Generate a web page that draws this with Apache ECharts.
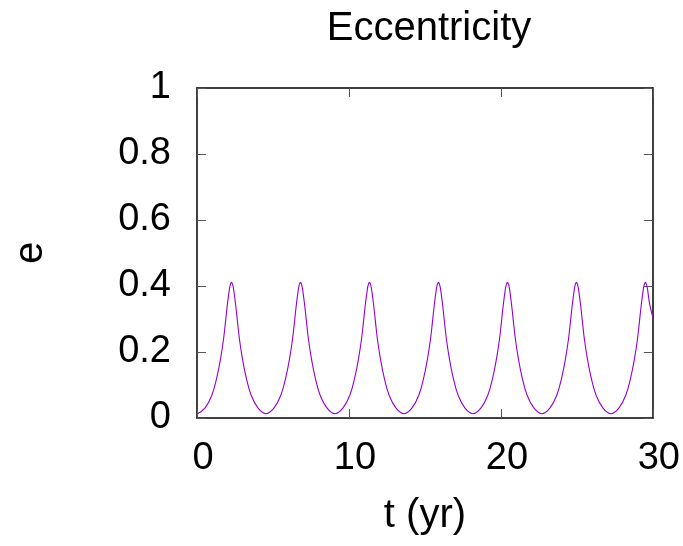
<!DOCTYPE html>
<html>
<head>
<meta charset="utf-8">
<script src="https://cdn.jsdelivr.net/npm/echarts@6/dist/echarts.min.js"></script>
<style>
  html, body { margin: 0; padding: 0; background: #ffffff; }
  #chart { width: 683px; height: 546px; }
</style>
</head>
<body>
<div id="chart"></div>
<script>
// Time (yr)
var tYears = [
  0, 0.52, 0.97, 1.32, 1.57, 1.75, 1.87, 1.99, 2.13, 2.20, 2.27, 2.34, 2.41, 2.55, 2.67, 2.79, 2.97, 3.22, 3.57, 4.02,
  4.54, 5.06, 5.51, 5.86, 6.11, 6.29, 6.41, 6.53, 6.67, 6.74, 6.81, 6.88, 6.95, 7.09, 7.21, 7.33, 7.51, 7.76, 8.11, 8.56,
  9.08, 9.60, 10.05, 10.40, 10.65, 10.83, 10.95, 11.07, 11.21, 11.28, 11.35, 11.42, 11.49, 11.63, 11.75, 11.87, 12.05, 12.30, 12.65, 13.10,
  13.62, 14.14, 14.59, 14.94, 15.19, 15.37, 15.49, 15.61, 15.75, 15.82, 15.89, 15.96, 16.03, 16.17, 16.29, 16.41, 16.59, 16.84, 17.19, 17.64,
  18.16, 18.68, 19.13, 19.48, 19.73, 19.91, 20.03, 20.15, 20.29, 20.36, 20.43, 20.50, 20.57, 20.71, 20.83, 20.95, 21.13, 21.38, 21.73, 22.18,
  22.70, 23.22, 23.67, 24.02, 24.27, 24.45, 24.57, 24.69, 24.83, 24.90, 24.97, 25.04, 25.11, 25.25, 25.37, 25.49, 25.67, 25.92, 26.27, 26.72,
  27.24, 27.76, 28.21, 28.56, 28.81, 28.99, 29.11, 29.23, 29.37, 29.44, 29.51, 29.58, 29.65, 29.79, 30.00
];
// Eccentricity
var ecc = [
  0.012, 0.030, 0.068, 0.126, 0.185, 0.240, 0.289, 0.340, 0.390, 0.405, 0.411, 0.405, 0.390, 0.340, 0.289, 0.240, 0.185, 0.126, 0.068, 0.030,
  0.013, 0.030, 0.068, 0.126, 0.185, 0.240, 0.289, 0.340, 0.390, 0.405, 0.411, 0.405, 0.390, 0.340, 0.289, 0.240, 0.185, 0.126, 0.068, 0.030,
  0.013, 0.030, 0.068, 0.126, 0.185, 0.240, 0.289, 0.340, 0.390, 0.405, 0.411, 0.405, 0.390, 0.340, 0.289, 0.240, 0.185, 0.126, 0.068, 0.030,
  0.013, 0.030, 0.068, 0.126, 0.185, 0.240, 0.289, 0.340, 0.390, 0.405, 0.411, 0.405, 0.390, 0.340, 0.289, 0.240, 0.185, 0.126, 0.068, 0.030,
  0.013, 0.030, 0.068, 0.126, 0.185, 0.240, 0.289, 0.340, 0.390, 0.405, 0.411, 0.405, 0.390, 0.340, 0.289, 0.240, 0.185, 0.126, 0.068, 0.030,
  0.013, 0.030, 0.068, 0.126, 0.185, 0.240, 0.289, 0.340, 0.390, 0.405, 0.411, 0.405, 0.390, 0.340, 0.289, 0.240, 0.185, 0.126, 0.068, 0.030,
  0.013, 0.030, 0.068, 0.126, 0.185, 0.240, 0.289, 0.340, 0.390, 0.405, 0.411, 0.405, 0.390, 0.345, 0.305
];
var xTicks = [0, 10, 20, 30];
var yTicks = [0, 0.2, 0.4, 0.6, 0.8, 1];

var titleText = 'Eccentricity';
var xName = 't (yr)';
var yName = 'e';

var FONT = '"Liberation Sans", Arial, Helvetica, sans-serif';
var seriesData = tYears.map(function (t, i) { return [t, ecc[i]]; });

var chart = echarts.init(document.getElementById('chart'), null, { renderer: 'canvas' });

function axisBase(showLabel) {
  return {
    axisLine: { show: true, onZero: false, lineStyle: { color: '#000', width: 1.5 } },
    axisTick: { show: true, inside: true, length: 9, lineStyle: { color: '#555', width: 1 } },
    splitLine: { show: false },
    axisLabel: { show: showLabel }
  };
}

var option = {
  backgroundColor: '#ffffff',
  animation: false,
  title: {
    text: titleText,
    left: 424,
    top: 4,
    textAlign: 'center',
    textStyle: { fontFamily: FONT, fontSize: 40, fontWeight: 'normal', color: '#000' }
  },
  grid: { left: 197, right: 28, top: 88, bottom: 128, containLabel: false },
  xAxis: [
    Object.assign(axisBase(true), {
      type: 'value', min: 0, max: 30, interval: 10, position: 'bottom',
      name: xName, nameLocation: 'middle', nameGap: 78,
      nameTextStyle: { fontFamily: FONT, fontSize: 40, color: '#000' },
      axisLabel: {
        show: true, margin: 22, fontFamily: FONT, fontSize: 38, color: '#000',
        padding: [0, 0, 0, 12],
        formatter: function (v) { return xTicks.indexOf(v) >= 0 ? String(v) : ''; }
      }
    }),
    Object.assign(axisBase(false), {
      type: 'value', min: 0, max: 30, interval: 10, position: 'top'
    })
  ],
  yAxis: [
    Object.assign(axisBase(true), {
      type: 'value', min: 0, max: 1, interval: 0.2, position: 'left',
      name: yName, nameLocation: 'middle', nameGap: 146, nameRotate: 90,
      nameTextStyle: { fontFamily: FONT, fontSize: 40, color: '#000' },
      axisLabel: {
        show: true, margin: 26, fontFamily: FONT, fontSize: 38, color: '#000',
        formatter: function (v) {
          for (var i = 0; i < yTicks.length; i++) {
            if (Math.abs(yTicks[i] - v) < 1e-9) return String(yTicks[i]);
          }
          return '';
        }
      }
    }),
    Object.assign(axisBase(false), {
      type: 'value', min: 0, max: 1, interval: 0.2, position: 'right'
    })
  ],
  series: [{
    type: 'line',
    xAxisIndex: 0,
    yAxisIndex: 0,
    data: seriesData,
    showSymbol: false,
    smooth: 0.4,
    clip: true,
    lineStyle: { color: '#9400D3', width: 1.1 }
  }]
};
chart.setOption(option);
</script>
</body>
</html>
